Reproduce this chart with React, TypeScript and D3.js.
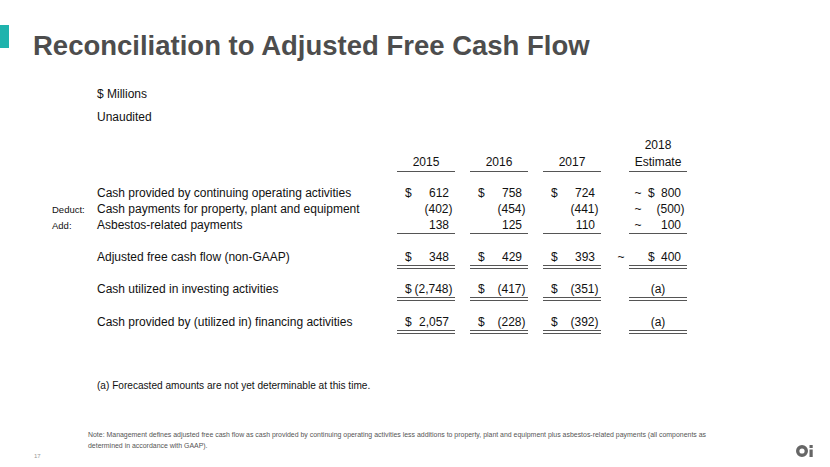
import React from "react";
import * as d3 from "d3";

const years = ["2015", "2016", "2017", "2018"];
const headerTop = ["", "", "", "2018"];
const headerBottom = ["2015", "2016", "2017", "Estimate"];

const rowKeys = ["ops", "capex", "asb", "afcf", "inv", "fin"];
const rowLabels = [
  "Cash provided by continuing operating activities",
  "Cash payments for property, plant and equipment",
  "Asbestos-related payments",
  "Adjusted free cash flow (non-GAAP)",
  "Cash utilized in investing activities",
  "Cash provided by (utilized in) financing activities",
];
const rowPrefixes = ["", "Deduct:", "Add:", "", "", ""];

const cashOps = [612, 758, 724, 800];
const capex = [-402, -454, -441, -500];
const asbestos = [138, 125, 110, 100];
const adjFcf = [348, 429, 393, 400];
const investing: (number | null)[] = [-2748, -417, -351, null];
const financing: (number | null)[] = [2057, -228, -392, null];

const rowValues: (number | null)[][] = [cashOps, capex, asbestos, adjFcf, investing, financing];
const rowDollar = [true, false, false, true, true, true];
const rowTilde = [true, true, true, true, false, false];
const rowRule = ["none", "none", "single", "double", "double", "double"];

const title = "Reconciliation to Adjusted Free Cash Flow";
const footnote = "(a) Forecasted amounts are not yet determinable at this time.";
const noteLines = [
  "Note: Management defines adjusted free cash flow as cash provided by continuing operating activities less additions to property, plant and equipment plus asbestos-related payments (all components as",
  "determined in accordance with GAAP).",
];

const FONT = "'Liberation Sans', Arial, Helvetica, sans-serif";

export default function App() {
  const colLeft = d3.scaleOrdinal<string, number>().domain(years).range([397, 470, 543, 629]);
  const colWidth = 58;
  const rowY = d3.scaleOrdinal<string, number>().domain(rowKeys).range([197, 213, 229, 261, 293, 326]);
  const fmt = d3.format(",");
  const fmtVal = (v: number) => (v < 0 ? `(${fmt(-v)})` : fmt(v));

  const textColor = "#111";
  const ruleColor = "#555";

  return (
    <svg
      width={830}
      height={467}
      style={{ position: "absolute", left: 0, top: 0, background: "#fff" }}
      fontFamily={FONT}
    >
      <rect x={0} y={25} width={9} height={23} fill="#1fb3ad" />
      <text x={33} y={54.5} fontSize={27.5} fontWeight="bold" fill="#4d4d4d">
        {title}
      </text>

      <text x={97} y={98} fontSize={12} fill={textColor}>$ Millions</text>
      <text x={97} y={121} fontSize={12} fill={textColor}>Unaudited</text>

      {years.map((y, i) => {
        const x0 = colLeft(y);
        const cx = x0 + colWidth / 2;
        return (
          <g key={y}>
            {headerTop[i] && (
              <text x={cx} y={149} fontSize={12} textAnchor="middle" fill={textColor}>
                {headerTop[i]}
              </text>
            )}
            <text x={cx} y={166} fontSize={12} textAnchor="middle" fill={textColor}>
              {headerBottom[i]}
            </text>
            <line x1={x0} x2={x0 + colWidth} y1={171.5} y2={171.5} stroke={ruleColor} strokeWidth={1} />
          </g>
        );
      })}

      {rowKeys.map((k, r) => {
        const y = rowY(k);
        return (
          <g key={k}>
            {rowPrefixes[r] && (
              <text x={52} y={y - 0.5} fontSize={9.5} fill={textColor}>
                {rowPrefixes[r]}
              </text>
            )}
            <text x={97} y={y} fontSize={12} fill={textColor}>
              {rowLabels[r]}
            </text>
            {years.map((yr, c) => {
              const x0 = colLeft(yr);
              const v = rowValues[r][c];
              const right = x0 + colWidth - 6;
              const isEst = c === 3;
              return (
                <g key={yr}>
                  {isEst && rowTilde[r] && (
                    <text x={r === 3 ? x0 - 8 : x0 + 9} y={y} fontSize={12} textAnchor="middle" fill={textColor}>
                      ~
                    </text>
                  )}
                  {v === null ? (
                    <text x={x0 + colWidth / 2} y={y} fontSize={12} textAnchor="middle" fill={textColor}>
                      (a)
                    </text>
                  ) : (
                    <>
                      {rowDollar[r] && (
                        <text x={isEst ? x0 + 19 : x0 + 8} y={y} fontSize={12} textAnchor="start" fill={textColor}>
                          $
                        </text>
                      )}
                      <text x={v < 0 ? right + 3.5 : right} y={y} fontSize={12} textAnchor="end" fill={textColor}>
                        {fmtVal(v)}
                      </text>
                    </>
                  )}
                  {rowRule[r] === "single" && (
                    <line x1={x0} x2={x0 + colWidth} y1={y + 4.5} y2={y + 4.5} stroke={ruleColor} strokeWidth={1} />
                  )}
                  {rowRule[r] === "double" && (
                    <>
                      <line x1={x0} x2={x0 + colWidth} y1={y + 4.5} y2={y + 4.5} stroke={ruleColor} strokeWidth={1} />
                      <line x1={x0} x2={x0 + colWidth} y1={y + 7.5} y2={y + 7.5} stroke={ruleColor} strokeWidth={1} />
                    </>
                  )}
                </g>
              );
            })}
          </g>
        );
      })}

      <text x={97} y={389} fontSize={10.1} fill={textColor}>{footnote}</text>

      {noteLines.map((t, i) => (
        <text key={i} x={88} y={437 + i * 10.5} fontSize={6.95} fill="#555">
          {t}
        </text>
      ))}

      <text x={34} y={458} fontSize={6} fill="#999">17</text>

      <g fill="#666">
        <circle cx={802} cy={451} r={4.3} fill="none" stroke="#666" strokeWidth={3.4} />
        <rect x={809.5} y={445} width={3.2} height={3} />
        <rect x={809.5} y={449.5} width={3.2} height={7.5} />
      </g>
    </svg>
  );
}
